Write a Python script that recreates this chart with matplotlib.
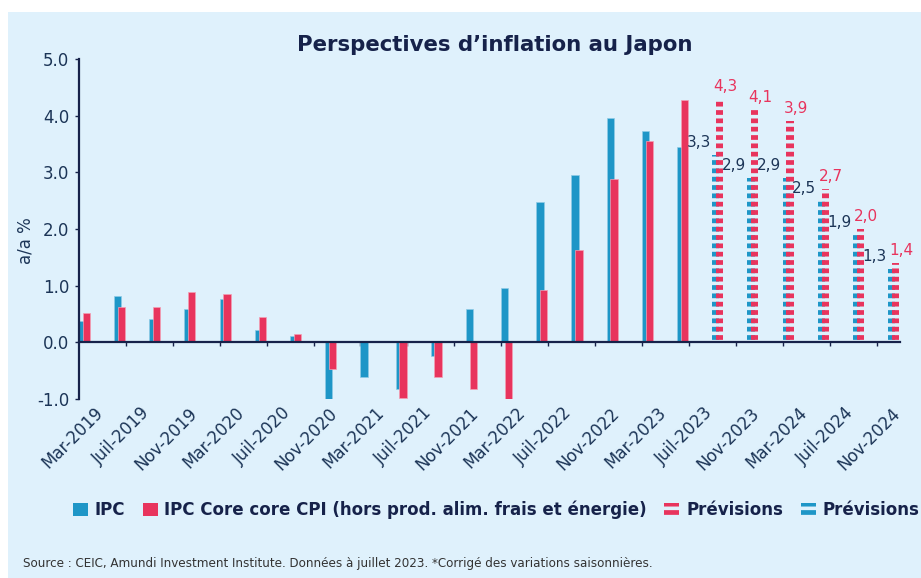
import matplotlib
matplotlib.use("Agg")
import matplotlib.pyplot as plt
import matplotlib.transforms as mtransforms
from matplotlib import font_manager
from matplotlib.patches import Patch, Rectangle

# ---------------- data ----------------
quarters = ["Mar-2019", "Jun-2019", "Sep-2019", "Dec-2019",
            "Mar-2020", "Jun-2020", "Sep-2020", "Dec-2020",
            "Mar-2021", "Jun-2021", "Sep-2021", "Dec-2021",
            "Mar-2022", "Jun-2022", "Sep-2022", "Dec-2022",
            "Mar-2023", "Jun-2023"]
ipc = [0.37, 0.82, 0.41, 0.58, 0.76, 0.21, 0.12, -1.02, -0.62,
       -0.82, -0.25, 0.59, 0.95, 2.47, 2.96, 3.95, 3.73, 3.45]
core = [0.51, 0.62, 0.62, 0.88, 0.86, 0.45, 0.15, -0.47, 0.0,
        -0.99, -0.62, -0.82, -1.03, 0.92, 1.63, 2.88, 3.55, 4.28]
fc_quarters = ["Sep-2023", "Dec-2023", "Mar-2024", "Jun-2024", "Sep-2024", "Dec-2024"]
fc_ipc = [3.3, 2.9, 2.9, 2.5, 1.9, 1.3]
fc_core = [4.3, 4.1, 3.9, 2.7, 2.0, 1.4]
tick_labels = ["Mar-2019", "Juil-2019", "Nov-2019", "Mar-2020", "Juil-2020", "Nov-2020",
               "Mar-2021", "Juil-2021", "Nov-2021", "Mar-2022", "Juil-2022", "Nov-2022",
               "Mar-2023", "Juil-2023", "Nov-2023", "Mar-2024", "Juil-2024", "Nov-2024"]
yticks = [-1.0, 0.0, 1.0, 2.0, 3.0, 4.0, 5.0]

title = "Perspectives d\u2019inflation au Japon"
source = ("Source : CEIC, Amundi Investment Institute. Donn\u00e9es \u00e0 juillet 2023. "
          "*Corrig\u00e9 des variations saisonni\u00e8res.")
leg_labels = ["IPC", "IPC Core core CPI (hors prod. alim. frais et \u00e9nergie)",
              "Pr\u00e9visions", "Pr\u00e9visions"]

# ---------------- style ----------------
BLUE = "#1E96C7"
RED = "#E8345D"
NAVY = "#16224A"
LABNAVY = "#1C3557"
BG = "#DFF1FC"

plt.rcParams["font.family"] = ["DejaVu Sans"]
plt.rcParams["hatch.linewidth"] = 3.4

MONTHS = {"Jan": 0, "Feb": 1, "Mar": 2, "Apr": 3, "May": 4, "Jun": 5, "Jul": 6,
          "Juil": 6, "Aug": 7, "Sep": 8, "Oct": 9, "Nov": 10, "Dec": 11}


def month_pos(lbl):
    m, y = lbl.split("-")
    return (int(y) - 2019) * 12 + MONTHS[m] - 2 + 0.5  # month centre, Mar-2019 -> 0.5


fig = plt.figure(figsize=(9.21, 5.78), dpi=100)
fig.patch.set_facecolor("white")
fig.patches.append(Rectangle((8 / 921, 0), 1, 1 - 12 / 578, transform=fig.transFigure,
                             facecolor=BG, edgecolor="none", zorder=-10))

ax = fig.add_axes([79 / 921, (578 - 399) / 578, 821 / 921, 340 / 578])
ax.set_facecolor("none")

W = 0.62
xs = [month_pos(q) for q in quarters]
fxs = [month_pos(q) for q in fc_quarters]

ax.bar([x - 0.2 for x in xs], ipc, width=W, color=BLUE, edgecolor="#8FCBE6",
       linewidth=0.5, zorder=2)
ax.bar([x + 0.12 for x in xs], core, width=W, color=RED, edgecolor="#F3A0B4",
       linewidth=0.5, zorder=3)

ax.bar([x - 0.2 for x in fxs], fc_ipc, width=W, facecolor="none", edgecolor=BLUE,
       linewidth=0, hatch="--", zorder=2)
ax.bar([x + 0.12 for x in fxs], fc_core, width=W, facecolor="none", edgecolor=RED,
       linewidth=0, hatch="--", zorder=3)

# value labels
for x, v in zip(fxs, fc_ipc):
    ax.annotate(f"{v:.1f}".replace(".", ","), (x - 0.2 - W / 2, v), xytext=(-1, 9),
                textcoords="offset points", ha="right", va="center",
                color=LABNAVY, fontsize=11)
for x, v in zip(fxs, fc_core):
    ax.annotate(f"{v:.1f}".replace(".", ","), (x + 0.12, v), xytext=(4, 9),
                textcoords="offset points", ha="center", va="center",
                color=RED, fontsize=11)

ax.set_xlim(0, 70)
ax.set_ylim(-1, 5)

# spines
for s in ["top", "right"]:
    ax.spines[s].set_visible(False)
ax.spines["left"].set_color(NAVY)
ax.spines["left"].set_linewidth(1.6)
ax.spines["bottom"].set_position(("data", 0))
ax.spines["bottom"].set_color(NAVY)
ax.spines["bottom"].set_linewidth(1.6)
ax.spines["bottom"].set_zorder(5)

ax.set_yticks(yticks)
ax.set_yticklabels([f"{t:.1f}" for t in yticks], color=LABNAVY, fontsize=12)
ax.tick_params(axis="y", direction="out", length=3, width=1, color=NAVY, pad=4)

ax.set_xticks([4 * j for j in range(1, 18)])
ax.set_xticklabels([])
ax.tick_params(axis="x", direction="out", length=3, width=1, color=NAVY)

off = mtransforms.ScaledTranslation(0.09, -0.05, fig.dpi_scale_trans)
btr = mtransforms.blended_transform_factory(ax.transData, ax.transAxes) + off
for lbl in tick_labels:
    ax.text(month_pos(lbl), 0, lbl, transform=btr, rotation=45, rotation_mode="anchor",
            ha="right", va="top", fontsize=12, color=LABNAVY)

ax.set_ylabel("a/a %", fontsize=12, color=LABNAVY, labelpad=2, y=0.465)

fig.text(494.5 / 921, 1 - 45 / 578, title, ha="center", va="center", fontsize=15.3,
         fontweight="bold", color=NAVY)

handles = [Patch(facecolor=BLUE, edgecolor="none"),
           Patch(facecolor=RED, edgecolor="none"),
           Patch(facecolor="none", edgecolor=RED, linewidth=0, hatch="--"),
           Patch(facecolor="none", edgecolor=BLUE, linewidth=0, hatch="--")]
leg = fig.legend(handles, leg_labels, loc="center left", bbox_to_anchor=(73 / 921, 1 - 510 / 578),
                 ncol=4, frameon=False, handlelength=0.9, handleheight=0.9,
                 handletextpad=0.4, columnspacing=1.05, borderaxespad=0, borderpad=0,
                 prop={"size": 12, "weight": "bold"})
for t in leg.get_texts():
    t.set_color(NAVY)

# source line in a narrow font, sized to the reference width
names = {f.name for f in font_manager.fontManager.ttflist}
stretches = {(f.name, f.stretch) for f in font_manager.fontManager.ttflist}
if "Liberation Sans Narrow" in names:
    src_kw = dict(family=["Liberation Sans Narrow", "DejaVu Sans"])
elif any(n == "DejaVu Sans" and s == "condensed" for n, s in stretches):
    src_kw = dict(family=["DejaVu Sans"], fontstretch="condensed")
else:
    src_kw = dict(family=["Roboto", "DejaVu Sans"])
src = fig.text(23 / 921, 1 - 563 / 578, source, ha="left", va="center", fontsize=11,
               color="#333333", **src_kw)
renderer = fig.canvas.get_renderer()
w = src.get_window_extent(renderer).width
src.set_fontsize(min(11, 11 * 629 / w))

fig.savefig("out.png", dpi=100, facecolor=fig.get_facecolor())
